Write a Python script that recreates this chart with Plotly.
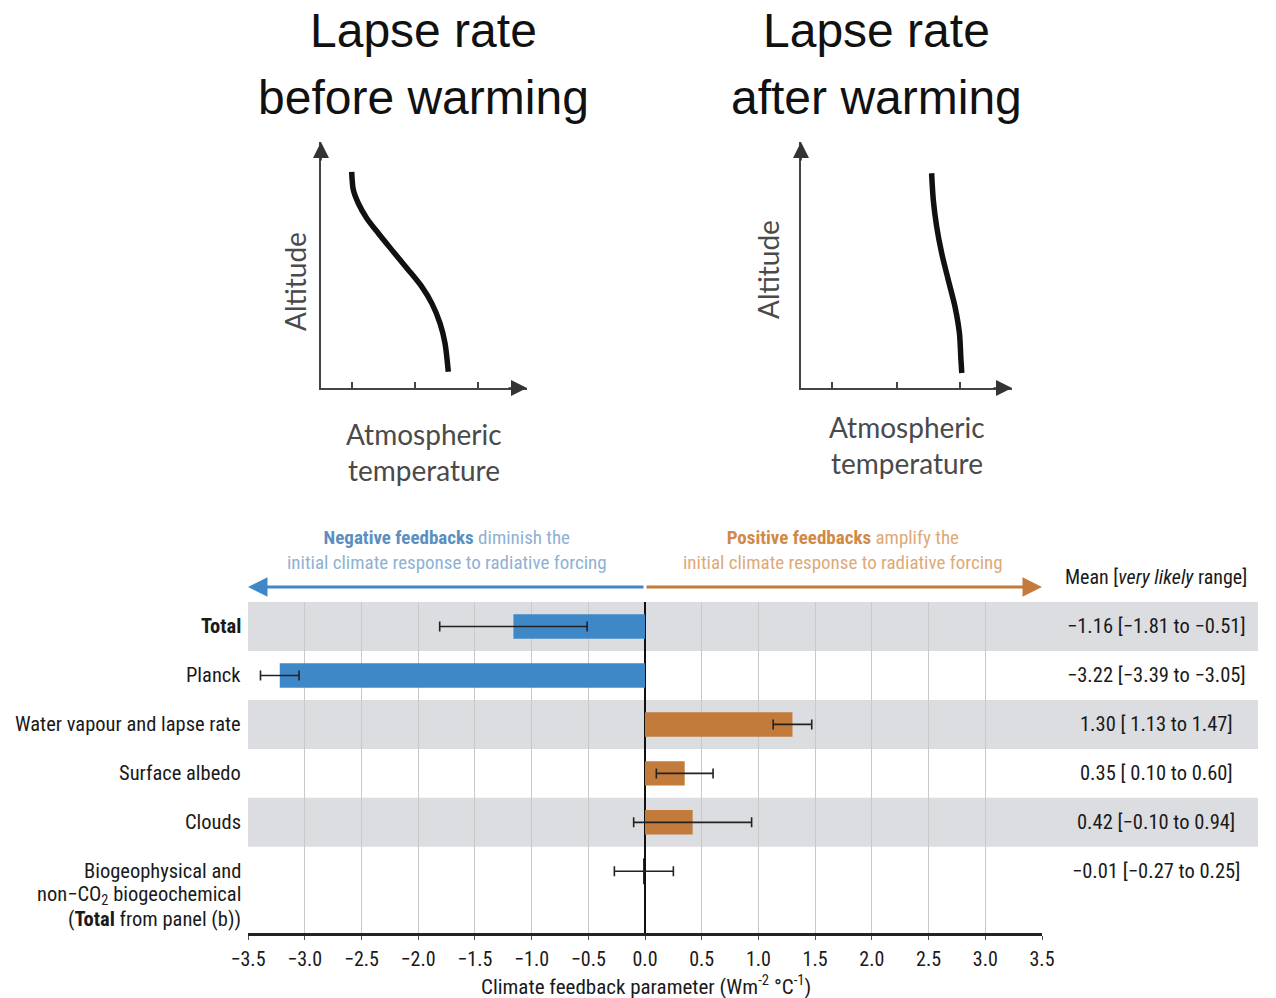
import plotly.graph_objects as go

W, H = 1276, 998

# ---------------- data ----------------
categories = ["Total", "Planck", "Water vapour and lapse rate", "Surface albedo", "Clouds",
              "Biogeophysical and non-CO2 biogeochemical (Total from panel (b))"]
category_labels = ["<b>Total</b>", "Planck", "Water vapour and lapse rate", "Surface albedo", "Clouds",
                   "Biogeophysical and<br>non\u2212CO<sub>2</sub> biogeochemical<br>(<b>Total</b> from panel (b))"]
means = [-1.16, -3.22, 1.30, 0.35, 0.42, -0.01]
lows = [-1.81, -3.39, 1.13, 0.10, -0.10, -0.27]
highs = [-0.51, -3.05, 1.47, 0.60, 0.94, 0.25]
x_ticks = [-3.5, -3.0, -2.5, -2.0, -1.5, -1.0, -0.5, 0.0, 0.5, 1.0, 1.5, 2.0, 2.5, 3.0, 3.5]
shaded_rows = [0, 2, 4]

# schematic lapse-rate profiles (normalised temperature / altitude)
before_temp = [0.149, 0.157, 0.181, 0.222, 0.278, 0.351, 0.424, 0.489, 0.538, 0.578, 0.602, 0.618]
before_alt = [0.879, 0.805, 0.751, 0.690, 0.629, 0.554, 0.480, 0.412, 0.344, 0.263, 0.182, 0.066]
after_temp = [0.619, 0.627, 0.643, 0.667, 0.698, 0.730, 0.751, 0.758, 0.762]
after_alt = [0.873, 0.764, 0.656, 0.547, 0.439, 0.330, 0.222, 0.114, 0.061]
diagram_ticks_before = [0.149, 0.456, 0.762]
diagram_ticks_after = [0.147, 0.455, 0.754]

BLUE = "#3f88c7"
ORANGE = "#c27b3a"
NARROW = "Liberation Sans Narrow, Arial Narrow, Roboto Condensed, sans-serif"

def px(x):
    return x / W

def py(y):
    return 1 - y / H

def fmt(v):
    s = f"{v:.2f}"
    return s.replace("-", "\u2212")

def range_text(m, lo, hi):
    lo_s = fmt(lo) if lo < 0 else " " + fmt(lo)
    return f"{fmt(m)} [{lo_s} to {fmt(hi)}]"

fig = go.Figure()

# ---------------- main bar chart ----------------
bar_colors = [BLUE if m < 0 else ORANGE for m in means]
line_w = [1.5 if abs(m) < 0.05 else 0 for m in means]
fig.add_trace(go.Bar(
    x=means, y=list(range(len(means))), orientation="h",
    width=0.5,
    marker=dict(color=bar_colors, line=dict(color="#111", width=line_w)),
    error_x=dict(type="data", symmetric=False,
                 array=[h - m for h, m in zip(highs, means)],
                 arrayminus=[m - l for m, l in zip(means, lows)],
                 color="#222", thickness=1.6, width=5),
    showlegend=False, hoverinfo="skip",
))

# ---------------- lapse-rate diagrams ----------------
fig.add_trace(go.Scatter(x=before_temp, y=before_alt, mode="lines", xaxis="x2", yaxis="y2",
                         line=dict(color="#111", width=5.5, shape="spline", smoothing=0.8),
                         showlegend=False, hoverinfo="skip"))
fig.add_trace(go.Scatter(x=after_temp, y=after_alt, mode="lines", xaxis="x3", yaxis="y3",
                         line=dict(color="#111", width=5.5, shape="spline", smoothing=0.8),
                         showlegend=False, hoverinfo="skip"))

shapes = []
for r in shaded_rows:
    shapes.append(dict(type="rect", xref="paper", yref="y", x0=px(248), x1=px(1258),
                       y0=r - 0.5, y1=r + 0.5, fillcolor="#dcdde0", line=dict(width=0),
                       layer="below"))

annotations = []
# category labels (multi-line labels placed line by line, first line on the row centre)
for i, lab in enumerate(category_labels):
    for k, line in enumerate(lab.split("<br>")):
        annotations.append(dict(x=px(243), xref="paper", y=i, yref="y", text=line,
                                xanchor="right", yanchor="middle", yshift=-24 * k,
                                align="right", showarrow=False,
                                font=dict(family=NARROW, size=20.5, color="#1a1a1a")))
# right column values
for i, (m, lo, hi) in enumerate(zip(means, lows, highs)):
    annotations.append(dict(x=px(1156), xref="paper", y=i, yref="y",
                            text=range_text(m, lo, hi), xanchor="center", yanchor="middle",
                            showarrow=False, font=dict(family=NARROW, size=20.5, color="#1a1a1a")))
annotations.append(dict(x=px(1156), xref="paper", y=py(577), yref="paper",
                        text="Mean [<i>very likely</i> range]", xanchor="center", yanchor="middle",
                        showarrow=False, font=dict(family=NARROW, size=20, color="#1a1a1a")))
# axis title
annotations.append(dict(x=px(646), xref="paper", y=py(985), yref="paper",
                        text="Climate feedback parameter (Wm<sup>-2</sup> \u00b0C<sup>-1</sup>)",
                        xanchor="center", yanchor="middle", showarrow=False,
                        font=dict(family=NARROW, size=21, color="#1a1a1a")))
# feedback captions
annotations.append(dict(x=px(447), xref="paper", y=py(550), yref="paper",
                        text="<span style='color:#5b8fbf'><b>Negative feedbacks</b></span> diminish the<br>initial climate response to radiative forcing",
                        xanchor="center", yanchor="middle", showarrow=False, align="center",
                        font=dict(family=NARROW, size=19, color="#8fb1d2")))
annotations.append(dict(x=px(843), xref="paper", y=py(550), yref="paper",
                        text="<span style='color:#d08a48'><b>Positive feedbacks</b></span> amplify the<br>initial climate response to radiative forcing",
                        xanchor="center", yanchor="middle", showarrow=False, align="center",
                        font=dict(family=NARROW, size=19, color="#dcaa78")))
# direction arrows
annotations.append(dict(x=-3.5, xref="x", y=py(587), yref="paper", ax=0, axref="x",
                        ay=0, ayref="pixel", text="", showarrow=True, arrowhead=2,
                        arrowsize=1.3, arrowwidth=3, arrowcolor=BLUE))
annotations.append(dict(x=3.5, xref="x", y=py(587), yref="paper", ax=0, axref="x",
                        ay=0, ayref="pixel", text="", showarrow=True, arrowhead=2,
                        arrowsize=1.3, arrowwidth=3, arrowcolor=ORANGE))

# diagram titles and labels
for xa, ya, cx, t1, t2, alt_x, alt_y, at_x, at_y in [
    ("x2", "y2", 423, "Lapse rate", "before warming", 295, 282, 424, 434),
    ("x3", "y3", 876, "Lapse rate", "after warming", 768, 270, 907, 427),
]:
    annotations.append(dict(x=px(cx), xref="paper", y=py(31), yref="paper", text=t1,
                            showarrow=False, xanchor="center", yanchor="middle",
                            font=dict(family="Liberation Sans, Arial, sans-serif", size=48, color="#111")))
    annotations.append(dict(x=px(cx), xref="paper", y=py(98), yref="paper", text=t2,
                            showarrow=False, xanchor="center", yanchor="middle",
                            font=dict(family="Liberation Sans, Arial, sans-serif", size=48, color="#111")))
    annotations.append(dict(x=px(alt_x), xref="paper", y=py(alt_y), yref="paper", text="Altitude",
                            textangle=-90, showarrow=False, xanchor="center", yanchor="middle",
                            font=dict(family="Lato, sans-serif", size=28, color="#4a4a4a")))
    annotations.append(dict(x=px(at_x), xref="paper", y=py(at_y), yref="paper",
                            text="Atmospheric", showarrow=False, xanchor="center", yanchor="middle",
                            font=dict(family="Lato, sans-serif", size=28, color="#4a4a4a")))
    annotations.append(dict(x=px(at_x), xref="paper", y=py(at_y + 36), yref="paper",
                            text="temperature", showarrow=False, xanchor="center", yanchor="middle",
                            font=dict(family="Lato, sans-serif", size=28, color="#4a4a4a")))
    # arrowheads
    annotations.append(dict(x=0, y=1, xref=xa, yref=ya, ax=0, ay=20, text="", showarrow=True,
                            arrowhead=2, arrowsize=2.0, arrowwidth=1.6, arrowcolor="#333"))
    annotations.append(dict(x=1, y=0, xref=xa, yref=ya, ax=-20, ay=0, text="", showarrow=True,
                            arrowhead=2, arrowsize=2.0, arrowwidth=1.6, arrowcolor="#333"))

diag_x = dict(range=[0, 1], showgrid=False, zeroline=False, showline=True, linecolor="#444",
              linewidth=1.6, ticks="inside", ticklen=6, tickwidth=1.5, tickcolor="#444",
              showticklabels=False, fixedrange=True)
diag_y = dict(range=[0, 1], showgrid=False, zeroline=False, showline=True, linecolor="#444",
              linewidth=1.6, ticks="", showticklabels=False, fixedrange=True)

fig.update_layout(
    width=W, height=H, autosize=False,
    margin=dict(l=0, r=0, t=0, b=0, pad=0, autoexpand=False),
    paper_bgcolor="white", plot_bgcolor="rgba(0,0,0,0)",
    bargap=0.5,
    xaxis=dict(domain=[px(248), px(1042)], range=[-3.5, 3.5], tickvals=x_ticks,
               tickformat=".1f", showgrid=True, gridcolor="#c9c9c9", gridwidth=1,
               zeroline=True, zerolinecolor="#111", zerolinewidth=2,
               showline=True, linecolor="#222", linewidth=2.5,
               ticks="outside", ticklen=4, tickcolor="#555", ticklabelstandoff=2,
               automargin=False,
               tickfont=dict(family=NARROW, size=20, color="#1a1a1a"), fixedrange=True),
    yaxis=dict(domain=[py(933), py(602)], range=[6.26, -0.5], showgrid=False, zeroline=False,
               showticklabels=False, ticks="", fixedrange=True, automargin=False),
    xaxis2=dict(domain=[px(321), px(527)], anchor="y2", **diag_x, tickvals=diagram_ticks_before),
    yaxis2=dict(domain=[py(388), py(142)], anchor="x2", **diag_y),
    xaxis3=dict(domain=[px(801), px(1012)], anchor="y3", **diag_x, tickvals=diagram_ticks_after),
    yaxis3=dict(domain=[py(388), py(142)], anchor="x3", **diag_y),
    shapes=shapes,
    annotations=annotations,
)

fig.write_html("out.html")
